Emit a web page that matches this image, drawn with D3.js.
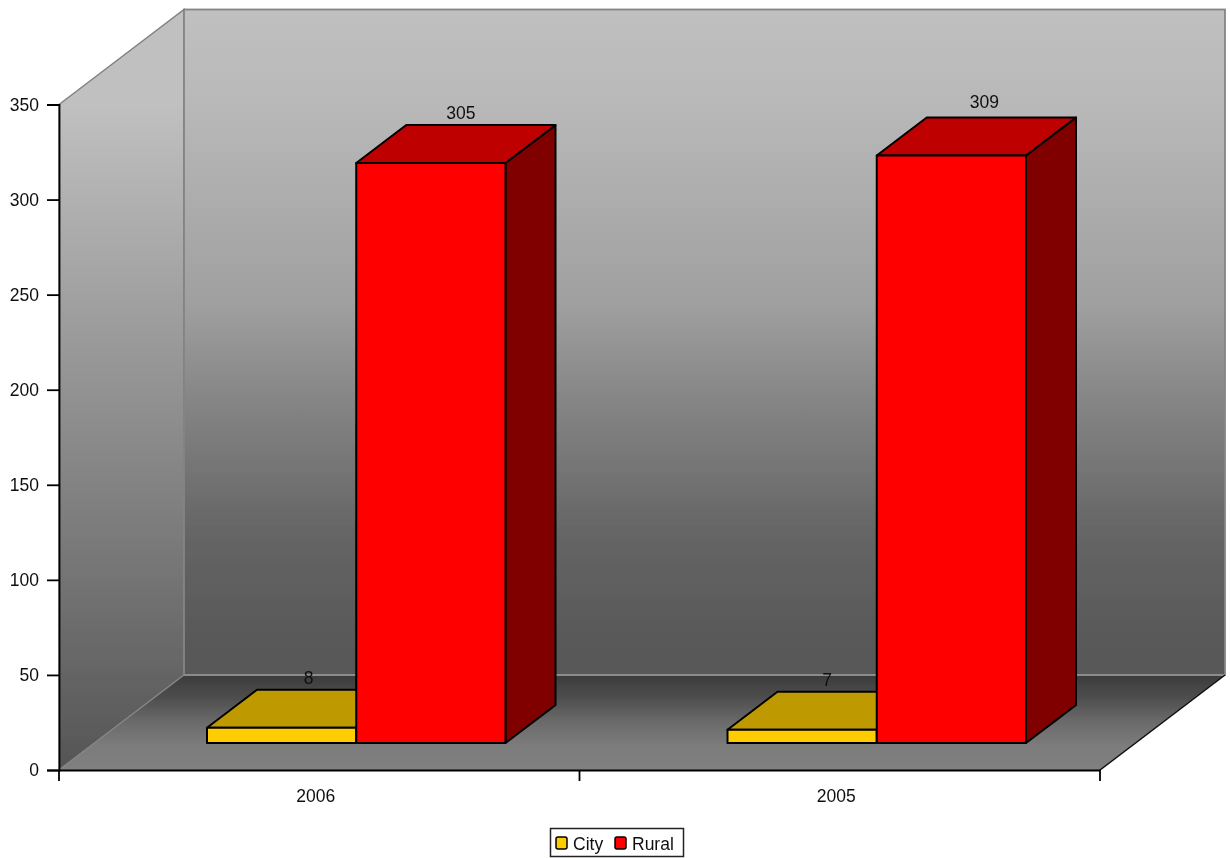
<!DOCTYPE html>
<html>
<head>
<meta charset="utf-8">
<script src="https://cdn.jsdelivr.net/npm/d3@7"></script>
<style>
  html, body { margin: 0; padding: 0; background: #fff; }
  text { font-family: "Liberation Sans", Arial, sans-serif; font-size: 17.5px; fill: #111; }
</style>
</head>
<body>
<div id="wrapper"></div>
<script>
const years = ['2006', '2005']
const seriesNames = ['City', 'Rural']
const cityValues = [8, 7]
const ruralValues = [305, 309]
const yTicks = [0, 50, 100, 150, 200, 250, 300, 350]

const seriesColors = {
  City: { front: '#ffcc00', top: '#bf9900', side: '#806600' },
  Rural: { front: '#ff0000', top: '#bf0000', side: '#800000' },
}

const dataset = seriesNames.flatMap((name, i) =>
  years.map((year, j) => ({ name, year, value: [cityValues, ruralValues][i][j] })),
)

const dimensions = { width: 1230, height: 858 }
const plot = { left: 59, right: 1100, top: 104.5, bottom: 770 }
// 3d offsets of the box and of the bars standing in it
const depth = { x: 125, y: -95 }
const barDepth = { x: 50, y: -38 }
const barFloorGap = 27

const svg = d3
  .select('#wrapper')
  .append('svg')
  .attr('width', dimensions.width)
  .attr('height', dimensions.height)
  .style('display', 'block')

const defs = svg.append('defs')
const addGradient = (id, y1, y2, stops) => {
  const gradient = defs
    .append('linearGradient')
    .attr('id', id)
    .attr('gradientUnits', 'userSpaceOnUse')
    .attr('x1', 0)
    .attr('x2', 0)
    .attr('y1', y1)
    .attr('y2', y2)
  stops.forEach(([offset, color]) => {
    gradient.append('stop').attr('offset', offset).attr('stop-color', color)
  })
}
addGradient('wall', plot.top + depth.y, plot.bottom + depth.y, [
  [0, '#c0c0c0'],
  [0.15, '#b8b8b8'],
  [0.44, '#a0a0a0'],
  [0.6, '#838383'],
  [0.78, '#666666'],
  [0.92, '#5a5a5a'],
  [1, '#585858'],
])
addGradient('side', plot.top, plot.bottom, [
  [0, '#c0c0c0'],
  [1, '#555555'],
])
addGradient('floor', plot.bottom + depth.y, plot.bottom, [
  [0, '#3b3b3b'],
  [0.25, '#4f4f4f'],
  [0.5, '#6b6b6b'],
  [0.75, '#7c7c7c'],
  [1, '#808080'],
])

defs
  .append('filter')
  .attr('id', 'soft')
  .attr('filterUnits', 'userSpaceOnUse')
  .attr('x', 0)
  .attr('y', 0)
  .attr('width', dimensions.width)
  .attr('height', dimensions.height)
  .append('feGaussianBlur')
  .attr('stdDeviation', 0.6)

const bounds = svg.append('g').attr('filter', 'url(#soft)')

// scales
const yScale = d3.scaleLinear().domain([0, 350]).range([plot.bottom, plot.top])
const xScale = d3.scaleBand().domain(years).range([plot.left, plot.right])
const xSeries = d3.scaleBand().domain(seriesNames).range([148, 446.5])

const polygon = (points) => 'M' + points.map((p) => p.join(',')).join('L') + 'Z'

// box: side wall, back wall, floor
const x0 = plot.left
const x1 = plot.right
const yTop = yScale(350)
const yBase = yScale(0)

bounds
  .append('path')
  .attr('d', polygon([[x0, yBase], [x0, yTop], [x0 + depth.x, yTop + depth.y], [x0 + depth.x, yBase + depth.y]]))
  .attr('fill', 'url(#side)')
  .attr('stroke', '#808080')
  .attr('stroke-width', 1.5)

bounds
  .append('rect')
  .attr('x', x0 + depth.x)
  .attr('y', yTop + depth.y)
  .attr('width', x1 - x0)
  .attr('height', yBase - yTop)
  .attr('fill', 'url(#wall)')
  .attr('stroke', '#848484')
  .attr('stroke-width', 1.8)

bounds
  .append('path')
  .attr('d', polygon([[x0, yBase], [x0 + depth.x, yBase + depth.y], [x1 + depth.x, yBase + depth.y], [x1, yBase]]))
  .attr('fill', 'url(#floor)')

bounds
  .append('path')
  .attr('d', d3.line()([[x0 + depth.x, yBase + depth.y], [x1 + depth.x, yBase + depth.y]]))
  .attr('stroke', '#8c8c8c')
  .attr('stroke-width', 1.8)
bounds
  .append('path')
  .attr('d', d3.line()([[x0, yBase], [x0 + depth.x, yBase + depth.y]]))
  .attr('stroke', '#858585')
  .attr('stroke-width', 1.2)
bounds
  .append('path')
  .attr('d', d3.line()([[x1, yBase], [x1 + depth.x, yBase + depth.y]]))
  .attr('stroke', '#111')
  .attr('stroke-width', 1.5)

// bars, city first so that rural sits on top of it
const barX = (d) => xScale(d.year) + xSeries(d.name)
const barBottom = yBase - barFloorGap
const barTop = (d) => barBottom - (yBase - yScale(d.value))

const bars = bounds
  .selectAll('.bar')
  .data(dataset)
  .join('g')
  .attr('class', 'bar')
  .attr('stroke', '#000')
  .attr('stroke-width', 2)
  .attr('stroke-linejoin', 'round')

bars
  .append('path')
  .attr('fill', (d) => seriesColors[d.name].side)
  .attr('d', (d) => {
    const r = barX(d) + xSeries.bandwidth()
    return polygon([
      [r, barBottom],
      [r, barTop(d)],
      [r + barDepth.x, barTop(d) + barDepth.y],
      [r + barDepth.x, barBottom + barDepth.y],
    ])
  })

bars
  .append('path')
  .attr('fill', (d) => seriesColors[d.name].top)
  .attr('d', (d) => {
    const l = barX(d)
    const r = l + xSeries.bandwidth()
    const t = barTop(d)
    return polygon([[l, t], [r, t], [r + barDepth.x, t + barDepth.y], [l + barDepth.x, t + barDepth.y]])
  })

bars
  .append('rect')
  .attr('fill', (d) => seriesColors[d.name].front)
  .attr('x', barX)
  .attr('y', barTop)
  .attr('width', xSeries.bandwidth())
  .attr('height', (d) => barBottom - barTop(d))

// value labels
const labelShift = { 'City2006': 27, 'Rural2006': 30, 'City2005': 25, 'Rural2005': 33 }
bounds
  .selectAll('.value-label')
  .data(dataset)
  .join('text')
  .attr('class', 'value-label')
  .attr('text-anchor', 'middle')
  .attr('x', (d) => barX(d) + xSeries.bandwidth() / 2 + labelShift[d.name + d.year])
  .attr('y', (d) => barTop(d) + barDepth.y - (d.year === '2005' && d.name === 'Rural' ? 9 : 6))
  .text((d) => d.value)

// axes
const yAxis = bounds
  .append('g')
  .attr('transform', `translate(${plot.left},0)`)
  .call(d3.axisLeft(yScale).tickValues(yTicks).tickSize(12).tickPadding(8))
const xAxis = bounds
  .append('g')
  .attr('transform', `translate(0,${plot.bottom})`)
  .call(d3.axisBottom(xScale).tickSize(0).tickPadding(20))

// the category ticks sit between the bands, not on them
xAxis
  .selectAll('.edge-tick')
  .data(xScale.domain().concat('end'))
  .join('line')
  .attr('class', 'edge-tick')
  .attr('stroke', '#000')
  .attr('x1', (d) => (d === 'end' ? plot.right : xScale(d)))
  .attr('x2', (d) => (d === 'end' ? plot.right : xScale(d)))
  .attr('y2', 11)

for (const axis of [yAxis, xAxis]) {
  axis.attr('font-family', null).attr('font-size', null)
  axis.selectAll('path.domain, line').attr('stroke', '#000').attr('stroke-width', 1.8)
  axis.selectAll('text').attr('fill', null)
}
xAxis.selectAll('.tick text').attr('dx', -3.5)

// legend
const legend = bounds.append('g').attr('transform', 'translate(550,828)')
legend
  .append('rect')
  .attr('x', 0.5)
  .attr('y', 0.5)
  .attr('width', 133)
  .attr('height', 28)
  .attr('fill', '#fff')
  .attr('stroke', '#222')
  .attr('stroke-width', 1.5)
const legendX = d3.scaleOrdinal().domain(seriesNames).range([6, 65])
const legendItems = legend
  .selectAll('.legend-item')
  .data(seriesNames)
  .join('g')
  .attr('class', 'legend-item')
  .attr('transform', (d) => `translate(${legendX(d)},9)`)
legendItems
  .append('rect')
  .attr('width', 11)
  .attr('height', 12)
  .attr('rx', 2)
  .attr('fill', (d) => seriesColors[d].front)
  .attr('stroke', '#000')
  .attr('stroke-width', 1.5)
legendItems
  .append('text')
  .attr('x', 17)
  .attr('y', 12.5)
  .text((d) => d)
</script>
</body>
</html>
